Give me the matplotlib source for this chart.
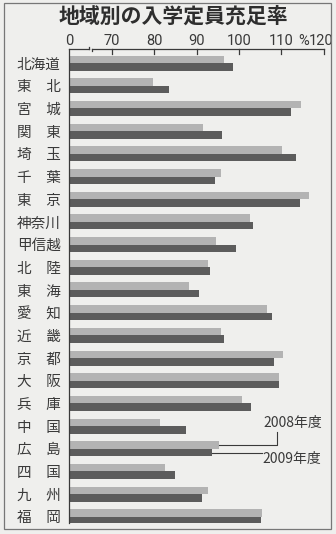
import numpy as np
import matplotlib.pyplot as plt
import matplotlib.transforms as mtransforms
from matplotlib.patches import Rectangle

plt.rcParams['font.family'] = ['Noto Sans CJK JP', 'DejaVu Sans']

# ==== Data ====
regions = ["北海道", "東　北", "宮　城", "関　東", "埼　玉", "千　葉", "東　京",
           "神奈川", "甲信越", "北　陸", "東　海", "愛　知", "近　畿", "京　都",
           "大　阪", "兵　庫", "中　国", "広　島", "四　国", "九　州", "福　岡"]
rate_2008 = [96.5, 79.8, 114.7, 91.5, 110.2, 95.8, 116.5, 102.5, 94.6, 92.8,
             88.2, 106.7, 95.8, 110.4, 109.3, 100.6, 81.4, 95.2, 82.6, 92.8, 105.5]
rate_2009 = [98.5, 83.5, 112.3, 96.0, 113.4, 94.4, 114.3, 103.2, 99.4, 93.1,
             90.6, 107.8, 96.4, 108.2, 109.4, 102.9, 87.5, 93.6, 84.9, 91.2, 105.1]
ticks = [60, 70, 80, 90, 100, 110, 120]
tick_labels = ["0", "70", "80", "90", "100", "110", "120"]

bg = "#efefed"
light = "#b3b3b3"
dark = "#5c5c5c"
txt = "#3a3a3a"

# ==== Figure ====
fig = plt.figure(figsize=(3.36, 5.34), dpi=100, facecolor=bg)
fig.patches.append(Rectangle((4 / 336, 5 / 534), 327 / 336, 526 / 534, transform=fig.transFigure,
                             fill=False, edgecolor="#777777", linewidth=0.9))

ax = fig.add_axes([69 / 336, 1 - 523 / 534, 255 / 336, 474 / 534])
ax.set_facecolor(bg)

y = np.arange(len(regions))
h = 0.33
ax.barh(y - h / 2, np.array(rate_2008) - 60, left=60, height=h, color=light)
ax.barh(y + h / 2, np.array(rate_2009) - 60, left=60, height=h, color=dark)

ax.set_xlim(60, 120)
ax.set_ylim(20.27, -0.62)

for s in ["right", "bottom", "top"]:
    ax.spines[s].set_visible(False)
ax.spines["left"].set_color(txt)
ax.spines["left"].set_linewidth(0.9)

# top axis with break between 0 and 70
ax.plot([60, 64.6], [-0.62, -0.62], color=txt, lw=0.9, clip_on=False)
ax.plot([64.6, 64.6], [-0.62, -0.72], color=txt, lw=0.9, clip_on=False)
ax.plot([65.4, 65.4], [-0.62, -0.55], color=txt, lw=0.9, clip_on=False)
ax.plot([65.4, 120], [-0.62, -0.62], color=txt, lw=0.9, clip_on=False)
for t in ticks[1:]:
    ax.plot([t, t], [-0.62, -0.38], color=txt, lw=0.9, clip_on=False)

ax.xaxis.tick_top()
ax.set_xticks(ticks)
ax.set_xticklabels(tick_labels, fontsize=10.5, color=txt, family=['Roboto'])
ax.tick_params(axis='x', length=0, pad=0.5)
last = ax.get_xticklabels()[-1]
last.set_transform(last.get_transform() + mtransforms.ScaledTranslation(-2.5 / 100, 0, fig.dpi_scale_trans))
ax.annotate("%", xy=(115.1, -0.62), xytext=(0, 0.5), textcoords='offset points',
            fontsize=10.5, color=txt, ha='center', va='bottom', family=['Roboto'],
            annotation_clip=False)

ax.set_yticks(y)
ax.set_yticklabels(regions, fontsize=10.5, color=txt)
ax.tick_params(axis='y', length=0, pad=6)

# legend annotations
i = regions.index("広　島")
ax.plot([rate_2008[i], 108.9, 108.9], [i - h / 2, i - h / 2, i - 0.72], color=txt, lw=0.8)
ax.plot([rate_2009[i], 105.3], [i + h / 2, i + h / 2], color=txt, lw=0.8)
ax.text(119.6, i - 1.15, "2008年度", fontsize=10, color=txt, ha='right', va='center')
ax.text(105.6, i + 0.44, "2009年度", fontsize=10, color=txt, ha='left', va='center')

fig.text(0.515, 1 - 16 / 534, "地域別の入学定員充足率", fontsize=15, fontweight='bold',
         color="#2e2e2e", ha='center', va='center')

fig.savefig("out.png", dpi=100, facecolor=bg)
